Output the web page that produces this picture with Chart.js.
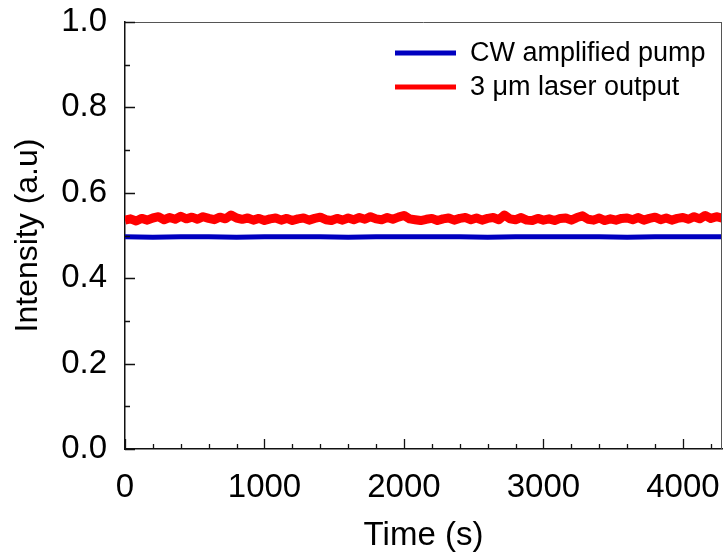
<!DOCTYPE html>
<html>
<head>
<meta charset="utf-8">
<script src="https://cdn.jsdelivr.net/npm/chart.js@4.4.1/dist/chart.umd.min.js"></script>
<style>
  html, body { margin: 0; padding: 0; background: #fff; }
  #wrap { width: 723px; height: 556px; }
</style>
</head>
<body>
<div id="wrap"><canvas id="chart" width="723" height="556"></canvas></div>
<script>
// series values
const pumpStep = 200; // s between pump samples
const pumpLevel = [0.497, 0.496, 0.497, 0.497, 0.496, 0.497, 0.497, 0.497, 0.496, 0.497, 0.497, 0.497,
  0.497, 0.496, 0.497, 0.497, 0.497, 0.497, 0.496, 0.497, 0.497, 0.497, 0.497];

const laserStep = 40; // s between laser samples
const laserLevel = [
  0.536, 0.539, 0.534, 0.540, 0.536, 0.541, 0.544, 0.537, 0.542, 0.538,
  0.545, 0.539, 0.543, 0.538, 0.544, 0.540, 0.537, 0.543, 0.539, 0.548,
  0.541, 0.538, 0.541, 0.536, 0.540, 0.535, 0.539, 0.541, 0.536, 0.540,
  0.535, 0.539, 0.541, 0.536, 0.540, 0.543, 0.537, 0.535, 0.540, 0.536,
  0.541, 0.537, 0.542, 0.538, 0.544, 0.539, 0.537, 0.542, 0.538, 0.543,
  0.547, 0.539, 0.537, 0.535, 0.538, 0.540, 0.535, 0.539, 0.541, 0.536,
  0.540, 0.542, 0.537, 0.541, 0.536, 0.540, 0.542, 0.537, 0.548, 0.539,
  0.537, 0.542, 0.536, 0.535, 0.540, 0.536, 0.539, 0.535, 0.540, 0.541,
  0.536, 0.542, 0.546, 0.538, 0.536, 0.541, 0.535, 0.539, 0.536, 0.540,
  0.541, 0.537, 0.542, 0.536, 0.540, 0.543, 0.537, 0.541, 0.536, 0.540,
  0.542, 0.538, 0.544, 0.539, 0.547, 0.540, 0.544, 0.541, 0.539, 0.542
];

const seriesNames = ['CW amplified pump', '3 \u03bcm laser output'];
const seriesColors = ['#0000c0', '#ff0000'];
const xTicks = [0, 1000, 2000, 3000, 4000];
const yTicks = [0.0, 0.2, 0.4, 0.6, 0.8, 1.0];

const toPoints = (vals, step) => vals.map((v, i) => ({ x: i * step, y: v }));

const FONT = "'Liberation Sans', Arial, sans-serif";

// inward major/minor ticks + top/right frame
const frameTicks = {
  id: 'frameTicks',
  afterDraw(chart) {
    const { ctx, chartArea: a, scales: { x, y } } = chart;
    ctx.save();
    ctx.strokeStyle = '#555';
    ctx.lineWidth = 1;
    ctx.beginPath();
    ctx.moveTo(a.left, a.top + 0.5);
    ctx.lineTo(a.right, a.top + 0.5);
    ctx.moveTo(a.right - 0.5, a.top);
    ctx.lineTo(a.right - 0.5, a.bottom);
    ctx.stroke();

    ctx.strokeStyle = '#111';
    ctx.lineWidth = 1.3;
    ctx.beginPath();
    for (let v = 0; v <= x.max; v += 200) {
      const px = Math.round(x.getPixelForValue(v)) + 0.5;
      const len = v % 1000 === 0 ? 10 : 5;
      ctx.moveTo(px, a.bottom);
      ctx.lineTo(px, a.bottom - len);
    }
    for (let k = 0; k <= 10; k++) {
      const py = Math.round(y.getPixelForValue(k / 10)) + 0.5;
      const len = k % 2 === 0 ? 10 : 5;
      ctx.moveTo(a.left, py);
      ctx.lineTo(a.left + len, py);
    }
    ctx.stroke();
    ctx.restore();
  }
};

// legend drawn inside the plot, top right
const insideLegend = {
  id: 'insideLegend',
  afterDraw(chart) {
    const { ctx } = chart;
    const rows = [53, 87];
    ctx.save();
    ctx.font = '27px ' + FONT;
    ctx.textBaseline = 'middle';
    ctx.textAlign = 'left';
    seriesNames.forEach((name, i) => {
      ctx.strokeStyle = seriesColors[i];
      ctx.lineWidth = 5;
      ctx.beginPath();
      ctx.moveTo(395, rows[i]);
      ctx.lineTo(456, rows[i]);
      ctx.stroke();
      ctx.fillStyle = '#000';
      ctx.fillText(name, 470, rows[i] + 1);
    });
    ctx.restore();
  }
};

new Chart(document.getElementById('chart'), {
  type: 'line',
  data: {
    datasets: [
      {
        label: seriesNames[1],
        data: toPoints(laserLevel, laserStep),
        borderColor: seriesColors[1],
        backgroundColor: seriesColors[1],
        borderWidth: 9,
        borderJoinStyle: 'round',
        pointRadius: 0,
        tension: 0,
      },
      {
        label: seriesNames[0],
        data: toPoints(pumpLevel, pumpStep),
        borderColor: seriesColors[0],
        backgroundColor: seriesColors[0],
        borderWidth: 5,
        pointRadius: 0,
        tension: 0,
      },
    ],
  },
  options: {
    responsive: false,
    animation: false,
    layout: { padding: { top: 22, right: 1, left: 0, bottom: 0 } },
    plugins: { legend: { display: false }, tooltip: { enabled: false } },
    scales: {
      x: {
        type: 'linear',
        min: 0,
        max: 4280,
        afterFit: (s) => {
          s.height = 107;
          s.paddingLeft = 0;
          s.paddingRight = 0;
        },
        afterBuildTicks: (s) => { s.ticks = xTicks.map((v) => ({ value: v })); },
        grid: { display: false },
        border: { display: true, color: '#111', width: 1.5 },
        ticks: {
          padding: 11,
          color: '#000',
          font: { family: FONT, size: 33 },
          maxRotation: 0,
          autoSkip: false,
          callback: (v) => String(v),
        },
        title: {
          display: true,
          text: 'Time (s)',
          color: '#000',
          font: { family: FONT, size: 33 },
          padding: { top: 0, bottom: 0 },
        },
      },
      y: {
        min: 0,
        max: 1,
        afterFit: (s) => {
          s.width = 125;
          s.paddingTop = 0;
          s.paddingBottom = 0;
        },
        afterBuildTicks: (s) => { s.ticks = yTicks.map((v) => ({ value: v })); },
        grid: { display: false },
        border: { display: true, color: '#111', width: 1.5 },
        ticks: {
          padding: 10,
          color: '#000',
          font: { family: FONT, size: 33 },
          callback: (v) => Number(v).toFixed(1),
        },
        title: {
          display: true,
          text: 'Intensity (a.u)',
          color: '#000',
          font: { family: FONT, size: 32 },
          padding: { top: 9, bottom: 0 },
        },
      },
    },
  },
  plugins: [frameTicks, insideLegend],
});
</script>
</body>
</html>
